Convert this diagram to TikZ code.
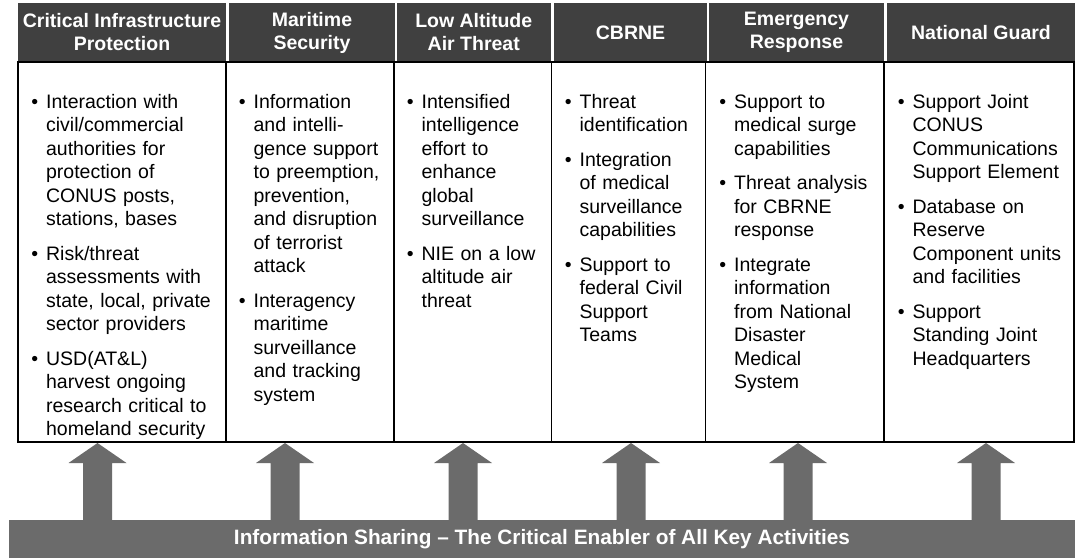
\documentclass[tikz,border=0pt]{standalone}
\usepackage{fontspec}
\setmainfont{Liberation Sans}
\usetikzlibrary{positioning}
\definecolor{hdrgray}{HTML}{404040}
\definecolor{arrgray}{HTML}{6B6B6B}
\newcommand{\itm}[1]{\par\noindent\llap{\textbullet\hspace{8pt}}#1\par\vskip 11pt}
\newcommand{\lstfont}{\fontsize{19.5}{23.5}\selectfont\hyphenpenalty=10000 \parskip=0pt\relax}

\begin{document}
\begin{tikzpicture}[x=1pt, y=-1pt,
	hdr/.style={fill=hdrgray, text=white, font=\fontsize{19.5}{23}\selectfont\bfseries, align=center, minimum height=59pt, inner sep=0pt},
	colbox/.style={draw=black, line width=1.2pt, minimum height=380pt, inner sep=0pt},
	lst/.style={anchor=north west, inner sep=0pt, align=left, font=\lstfont},
	bar/.style={fill=arrgray, text=white, font=\fontsize{20.8}{24}\selectfont\bfseries, inner sep=0pt}]
				\useasboundingbox (0,0) rectangle (1075,558);

				\node[hdr, minimum width=208pt] (hd1) at (122,32.5) {Critical Infrastructure\\Protection};
				\node[hdr, minimum width=166pt] (hd2) at (312,32.5) {Maritime\\Security};
				\node[hdr, minimum width=153.5pt] (hd3) at (473.75,32.5) {Low Altitude\\Air Threat};
				\node[hdr, minimum width=153pt] (hd4) at (630.5,32.5) {CBRNE};
				\node[hdr, minimum width=175pt] (hd5) at (796.5,32.5) {Emergency\\Response};
				\node[hdr, minimum width=188pt] (hd6) at (981,32.5) {National Guard};

				\node[colbox, minimum width=208pt] (bx1) at (122,252) {};
				\node[colbox, minimum width=168pt] (bx2) at (310,252) {};
				\node[colbox, minimum width=157.5pt] (bx3) at (472.75,252) {};
				\node[colbox, minimum width=154pt] (bx4) at (628.5,252) {};
				\node[colbox, minimum width=178.5pt] (bx5) at (794.75,252) {};
				\node[colbox, minimum width=190pt] (bx6) at (979,252) {};

				\node[lst, text width=178pt] (tx1) at ([shift={(28.5,23)}]bx1.north west) {%
					\itm{Interaction with\\civil/commercial\\authorities for\\protection of\\CONUS posts,\\stations, bases}
					\itm{Risk/threat\\assessments with\\state, local, private\\sector providers}
					\itm{USD(AT\&L)\\harvest ongoing\\research critical to\\homeland security}};
				\node[lst, text width=138pt] (tx2) at ([shift={(28,23)}]bx2.north west) {%
					\itm{Information\\and intelli-\\gence support\\to preemption,\\prevention,\\and disruption\\of terrorist\\attack}
					\itm{Interagency\\maritime\\surveillance\\and tracking\\system}};
				\node[lst, text width=128pt] (tx3) at ([shift={(28,23)}]bx3.north west) {%
					\itm{Intensified\\intelligence\\effort to\\enhance\\global\\surveillance}
					\itm{NIE on a low\\altitude air\\threat}};
				\node[lst, text width=124pt] (tx4) at ([shift={(28.5,23)}]bx4.north west) {%
					\itm{Threat\\identification}
					\itm{Integration\\of medical\\surveillance\\capabilities}
					\itm{Support to\\federal Civil\\Support\\Teams}};
				\node[lst, text width=148pt] (tx5) at ([shift={(29,23)}]bx5.north west) {%
					\itm{Support to\\medical surge\\capabilities}
					\itm{Threat analysis\\for CBRNE\\response}
					\itm{Integrate\\information\\from National\\Disaster\\Medical\\System}};
				\node[lst, text width=160pt] (tx6) at ([shift={(29,23)}]bx6.north west) {%
					\itm{Support Joint\\CONUS\\Communications\\Support Element}
					\itm{Database on\\Reserve\\Component units\\and facilities}
					\itm{Support\\Standing Joint\\Headquarters}};

				\fill[arrgray] (97.5-14.5,521) -- (97.5-14.5,463) -- (97.5-29,463) -- (97.5,443) -- (97.5+29,463) -- (97.5+14.5,463) -- (97.5+14.5,521) -- cycle;
				\fill[arrgray] (285-14.5,521) -- (285-14.5,463) -- (285-29,463) -- (285,443) -- (285+29,463) -- (285+14.5,463) -- (285+14.5,521) -- cycle;
				\fill[arrgray] (463-14.5,521) -- (463-14.5,463) -- (463-29,463) -- (463,443) -- (463+29,463) -- (463+14.5,463) -- (463+14.5,521) -- cycle;
				\fill[arrgray] (631-14.5,521) -- (631-14.5,463) -- (631-29,463) -- (631,443) -- (631+29,463) -- (631+14.5,463) -- (631+14.5,521) -- cycle;
				\fill[arrgray] (798-14.5,521) -- (798-14.5,463) -- (798-29,463) -- (798,443) -- (798+29,463) -- (798+14.5,463) -- (798+14.5,521) -- cycle;
				\fill[arrgray] (986-14.5,521) -- (986-14.5,463) -- (986-29,463) -- (986,443) -- (986+29,463) -- (986+14.5,463) -- (986+14.5,521) -- cycle;

				\node[bar, minimum width=1066pt, minimum height=38pt] (share) at (542,539) {Information Sharing -- The Critical Enabler of All Key Activities};
			\end{tikzpicture}
\end{document}
